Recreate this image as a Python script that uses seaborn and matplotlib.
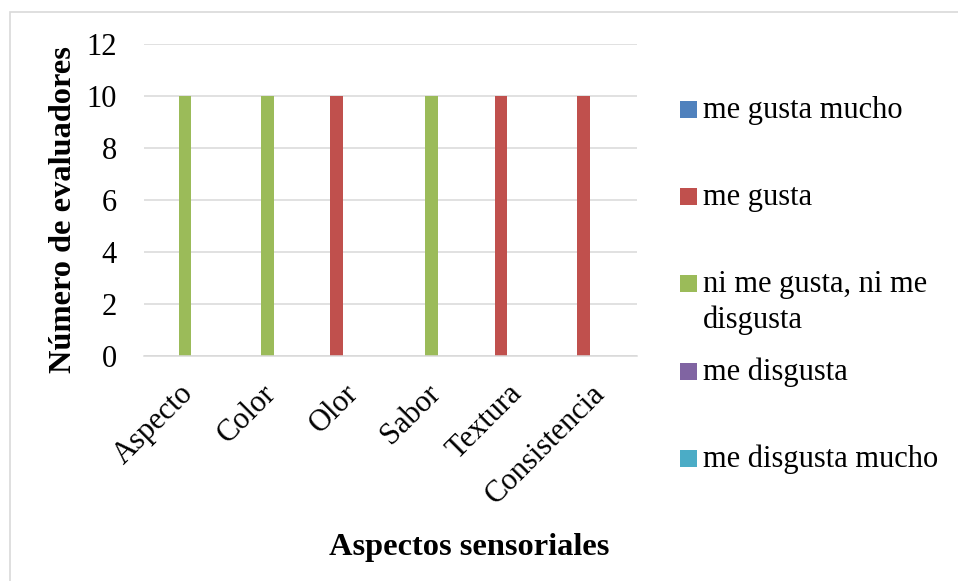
import numpy as np
import pandas as pd
import matplotlib
matplotlib.use('Agg')
import matplotlib.pyplot as plt
import matplotlib.transforms as mtransforms
from matplotlib.patches import Rectangle
from matplotlib.legend_handler import HandlerPatch
import seaborn as sns

# Data
categories = ['Aspecto', 'Color', 'Olor', 'Sabor', 'Textura', 'Consistencia']
series = ['me gusta mucho', 'me gusta', 'ni me gusta, ni me disgusta',
          'me disgusta', 'me disgusta mucho']
me_gusta_mucho = [0, 0, 0, 0, 0, 0]
me_gusta = [0, 0, 10, 0, 10, 10]
ni_ni = [10, 10, 0, 10, 0, 0]
me_disgusta = [0, 0, 0, 0, 0, 0]
me_disgusta_mucho = [0, 0, 0, 0, 0, 0]
legend_first = ['me gusta mucho', 'me gusta', 'ni me gusta, ni me',
                'me disgusta', 'me disgusta mucho']
legend_second = ['', '', 'disgusta', '', '']
colors = ['#4F81BD', '#C0504D', '#9BBB59', '#8064A2', '#4BACC6']

values = [me_gusta_mucho, me_gusta, ni_ni, me_disgusta, me_disgusta_mucho]
df = pd.DataFrame({
    'Aspecto': np.tile(categories, len(series)),
    'Serie': np.repeat(series, len(categories)),
    'Valor': np.concatenate(values),
})

sns.set_style('white')
plt.rcParams['font.family'] = ['Liberation Serif', 'DejaVu Serif']
plt.rcParams['text.color'] = 'black'
plt.rcParams['axes.labelcolor'] = 'black'

FS = 22
fig = plt.figure(figsize=(9.58, 5.81), dpi=100)
ax = fig.add_axes([144 / 958, 1 - 356 / 581, 493 / 958, 312 / 581])

sns.barplot(data=df, x='Aspecto', y='Valor', hue='Serie', order=categories,
            hue_order=series, palette=colors, width=0.77, gap=0,
            linewidth=0, saturation=1, ax=ax, legend=True)

ax.set_ylim(0, 12)
ax.set_xlim(-0.5, len(categories) - 0.5)
ax.set_yticks(range(0, 13, 2))
ax.yaxis.grid(True, color='#D9D9D9', linewidth=1.1)
ax.set_axisbelow(True)
for s in ['top', 'right', 'left']:
    ax.spines[s].set_visible(False)
ax.spines['bottom'].set_color('#D9D9D9')
ax.spines['bottom'].set_linewidth(1.1)
ax.tick_params(axis='both', length=0, labelsize=FS, colors='black')
ax.tick_params(axis='y', pad=19.5)
ax.tick_params(axis='x', pad=6)
shift = mtransforms.ScaledTranslation(-6 / 100, -15 / 100, fig.dpi_scale_trans)
for lab in ax.get_xticklabels():
    lab.set_rotation(45)
    lab.set_ha('right')
    lab.set_rotation_mode('anchor')
    lab.set_transform(lab.get_transform() + shift)

ax.set_xlabel('Aspectos sensoriales', fontsize=23.3, fontweight='bold')
ax.set_ylabel('Número de evaluadores', fontsize=23.3, fontweight='bold')
ax.xaxis.set_label_coords(0.66, -0.566)
ax.yaxis.set_label_coords(-0.134, 0.468)


class SquareHandler(HandlerPatch):
    # square sitting on the text baseline, like Excel legend keys
    def create_artists(self, legend, orig_handle, xdescent, ydescent, width,
                       height, fontsize, trans):
        side = width
        p = Rectangle((-xdescent, 0), side, side,
                      facecolor=orig_handle.get_facecolor(),
                      edgecolor='none', transform=trans)
        return [p]


handles, _ = ax.get_legend_handles_labels()
ax.get_legend().remove()
hmap = {h: SquareHandler() for h in handles}
leg = fig.legend(handles, legend_first, loc='upper left',
                 bbox_to_anchor=(680 / 958, 1 - 96 / 581), frameon=False,
                 fontsize=FS, handlelength=0.556, handleheight=0.7,
                 handletextpad=0.2, labelspacing=1.9, borderpad=0,
                 borderaxespad=0, handler_map=hmap)

# wrapped second line of the long legend label
for txt, extra in zip(leg.get_texts(), legend_second):
    if extra:
        fig.add_artist(matplotlib.text.Annotation(
            extra, xy=(0, 0), xycoords=txt, xytext=(0, -26),
            textcoords='offset points', ha='left', va='bottom',
            fontsize=FS, zorder=10))

# outer chart border
fig.add_artist(Rectangle((10 / 958, -0.1), 1.0, 1.1 - 12 / 581,
                         transform=fig.transFigure, fill=False,
                         edgecolor='#D9D9D9', linewidth=1.2))

fig.savefig('out.png', dpi=100)
